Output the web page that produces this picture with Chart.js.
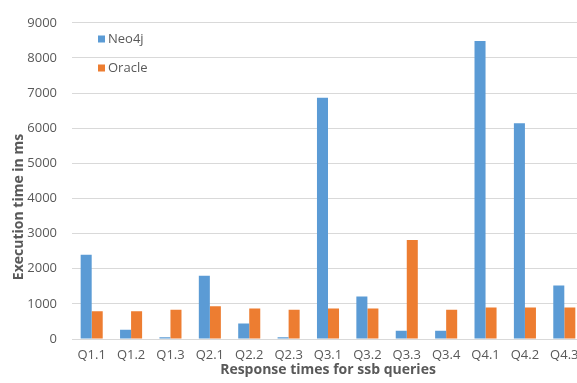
<!DOCTYPE html>
<html>
<head>
<meta charset="utf-8">
<script src="https://cdn.jsdelivr.net/npm/chart.js@4/dist/chart.umd.min.js"></script>
<style>
  html, body { margin: 0; padding: 0; background: #ffffff; overflow: hidden; width: 577px; height: 383px; }
  canvas { display: block; }
</style>
</head>
<body>
<canvas id="c" width="590" height="383"></canvas>
<script>
const categories = ["Q1.1","Q1.2","Q1.3","Q2.1","Q2.2","Q2.3","Q3.1","Q3.2","Q3.3","Q3.4","Q4.1","Q4.2","Q4.3"];
const neo4j  = [2400, 260, 50, 1800, 440, 50, 6870, 1210, 235, 235, 8480, 6140, 1525];
const oracle = [790, 790, 830, 930, 865, 830, 865, 865, 2820, 835, 900, 900, 900];
const yTicks = [0,1000,2000,3000,4000,5000,6000,7000,8000,9000];
const seriesNames = ["Neo4j", "Oracle"];
const xTitle = "Response times for ssb queries";
const yTitle = "Execution time in ms";

const FONT = "'Open Sans', sans-serif";
const GRAY = "#595959";

const overlay = {
  id: "overlay",
  afterDraw(chart) {
    const ctx = chart.ctx;
    const a = chart.chartArea;
    ctx.save();
    // legend
    ctx.font = "13px " + FONT;
    ctx.textBaseline = "middle";
    ctx.textAlign = "left";
    const rows = [39, 68];
    chart.data.datasets.forEach((ds, i) => {
      const y = rows[i];
      ctx.fillStyle = ds.backgroundColor;
      ctx.fillRect(98, y - 3.5, 7, 7);
      ctx.fillStyle = GRAY;
      ctx.fillText(ds.label, 108, y);
    });
    // x title
    ctx.font = "bold 14px " + FONT;
    ctx.textAlign = "center";
    ctx.textBaseline = "alphabetic";
    ctx.fillStyle = GRAY;
    ctx.fillText(xTitle, (a.left + a.right) / 2, 374);
    // y title
    ctx.translate(23, 207);
    ctx.rotate(-Math.PI / 2);
    ctx.font = "bold 14px " + FONT;
    ctx.textAlign = "center";
    ctx.textBaseline = "alphabetic";
    ctx.fillText(yTitle, 0, 0);
    ctx.restore();
  }
};

new Chart(document.getElementById("c"), {
  type: "bar",
  data: {
    labels: categories,
    datasets: [
      { label: seriesNames[0], data: neo4j, backgroundColor: "#5b9bd5" },
      { label: seriesNames[1], data: oracle, backgroundColor: "#ed7d31" }
    ]
  },
  options: {
    responsive: false,
    animation: false,
    layout: { padding: { top: 20, right: 6, left: 0, bottom: 0 } },
    datasets: { bar: { categoryPercentage: 0.56, barPercentage: 1.0 } },
    plugins: { legend: { display: false }, tooltip: { enabled: false } },
    scales: {
      x: {
        grid: { display: false, drawTicks: false },
        border: { display: true, color: "#d9d9d9" },
        ticks: { color: GRAY, font: { family: FONT, size: 13 }, padding: 8, maxRotation: 0, autoSkip: false },
        afterFit(s) { s.height = 44; }
      },
      y: {
        min: 0, max: 9000,
        afterBuildTicks(s) { s.ticks = yTicks.map(v => ({ value: v })); },
        grid: { color: "#d9d9d9", drawTicks: false },
        border: { display: false },
        ticks: { color: GRAY, font: { family: FONT, size: 13 }, padding: 15, callback: (v) => String(v) },
        afterFit(s) { s.width = 72; }
      }
    }
  },
  plugins: [overlay]
});
</script>
</body>
</html>
